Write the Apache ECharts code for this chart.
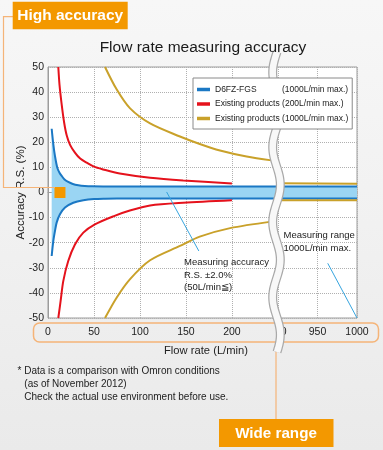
<!DOCTYPE html>
<html><head><meta charset="utf-8">
<script src="https://cdn.jsdelivr.net/npm/echarts@6/dist/echarts.min.js"></script>
<style>
html,body{margin:0;padding:0;width:383px;height:450px;overflow:hidden;background:linear-gradient(to bottom,#f7f7f7 0%,#f1f1f1 50%,#eaeaea 100%);}
#c{width:383px;height:450px;}
</style></head><body><div id="c"></div>
<script>
// ---- data (flow rate in L/min, accuracy in % R.S.) ----
const xTickFlows  = [0, 50, 100, 150, 200, 900, 950, 1000];
const xTickLabels = ['0', '50', '100', '150', '200', '900', '950', '1000'];

const d6fzUpper = [[4,25.4],[5.8,19.2],[7.6,14.5],[10.1,9.9],[12.5,7.9],[14.9,6.6],[18,5.2],[22,4.2],[27,3.4],[33,2.9],[40,2.6],[48,2.45],[60,2.4],[200,2.4],[900,2.4],[1000,2.4]];
const d6fzLower = [[4,-25.3],[5.8,-19.3],[7.6,-15.3],[9.4,-12],[13,-8.7],[18.5,-6],[27.5,-4.1],[38.4,-3.1],[50,-2.6],[62,-2.45],[75,-2.4],[200,-2.4],[900,-2.4],[1000,-2.4]];

const red200Upper = [[11.2,50],[12.5,43],[14.9,35],[17.5,28],[20.3,22.8],[24,19],[29.3,15.9],[35,13.5],[42,11.9],[50,10.3],[60,9.2],[78,7.6],[111,5.9],[147,4.8],[200,3.6]];
const red200Lower = [[11.2,-50],[13.8,-43],[16.6,-35.3],[22,-27.3],[29.3,-20.7],[38.4,-16],[51,-12.7],[71,-9.5],[89,-7.2],[111,-5.2],[147,-4.1],[200,-3.1]];

const gold1000UpperA = [[62,50],[74.6,41.1],[89,33.6],[111,27.5],[143.5,22.3],[165,19.3],[187,16.7],[216,14.3],[243,12.8]];
const gold1000UpperB = [[900,3.7],[1000,3.5]];
const gold1000LowerA = [[62,-50],[74.6,-41.9],[89,-34.6],[111,-27],[143.5,-21.3],[165,-17.6],[198,-14.2],[243,-11.6]];
const gold1000LowerB = [[900,-3.1],[1000,-3.1]];

const accuracyLeader = [[129,0.2],[164,-23.3]];
const rangeLeader    = [[963,-28.2],[1000,-50]];
const startMarker    = [[13,0]];

// ---- broken axis mapping: 0..250 | 900..1000 ----
const BREAK_AT = 250, RIGHT_START = 900, RIGHT_SCALE = 0.86;
const toDisp = f => f <= BREAK_AT ? f : BREAK_AT + (f - RIGHT_START) * RIGHT_SCALE;
const mapPts = arr => arr.map(p => [toDisp(p[0]), p[1]]);
const xTickDisp = xTickFlows.map(toDisp);
const X_MAX = toDisp(1000);

const FONT = "'Liberation Sans', Arial, sans-serif";
const BLUE = '#1b78c4', RED = '#e5121c', GOLD = '#c9a12a', BAND = '#9ad5f3', ORANGE = '#f39800', ORANGE_LINE = '#f5b478', LEAD = '#36a4de';
const N_D6 = 'D6FZ-FGS', N_R = 'Existing products (200L/min max.)', N_G = 'Existing products (1000L/min max.)';

function lineSeries(name, color, pts) {
  return { type: 'line', name, data: mapPts(pts), symbol: 'none', smooth: 0.3, silent: true,
    itemStyle: { color }, lineStyle: { color, width: 2 }, z: 3 };
}

const chart = echarts.init(document.getElementById('c'), null, { renderer: 'canvas' });

const option = {
  animation: false,
  backgroundColor: 'transparent',
  textStyle: { fontFamily: FONT },
  grid: { left: 48, top: 67, width: 309, height: 251, show: true, backgroundColor: '#ffffff', borderColor: '#9c9c9c', borderWidth: 1 },
  legend: {
    data: [N_D6, N_R, N_G], orient: 'vertical', left: 193, top: 78, z: 200,
    padding: [7, 4, 6, 4], itemGap: 5.5, itemWidth: 13, itemHeight: 3.5, icon: 'rect',
    backgroundColor: '#ffffff', borderColor: '#8a8a8a', borderWidth: 1, selectedMode: false,
    textStyle: { fontSize: 8.5, color: '#222', fontFamily: FONT,
      rich: { a: { width: 67, fontSize: 8.5, color: '#222', fontFamily: FONT }, b: { fontSize: 8.5, color: '#222', fontFamily: FONT } } },
    formatter: n => n === N_D6 ? '{a|D6FZ-FGS}{b|(1000L/min max.)}' : n
  },
  xAxis: {
    type: 'value', min: 0, max: X_MAX,
    name: 'Flow rate (L/min)', nameLocation: 'middle', nameGap: 27, nameMoveOverlap: false,
    nameTextStyle: { fontSize: 11.2, color: '#222', fontFamily: FONT, padding: [0, 0, 0, 7] },
    axisLine: { show: true, lineStyle: { color: '#9c9c9c' } },
    axisTick: { show: false, customValues: xTickDisp },
    axisLabel: { customValues: xTickDisp, fontSize: 10.5, color: '#222', margin: 9, fontFamily: FONT,
      rich: { hid: { color: 'rgba(0,0,0,0)', fontSize: 10.5, fontFamily: FONT } },
      formatter: v => {
        const i = xTickDisp.findIndex(t => Math.abs(t - v) < 0.01);
        if (i < 0) return '';
        const s = xTickLabels[i];
        // the label at the axis break is partly hidden behind the break mark
        return xTickFlows[i] === RIGHT_START ? '{hid|' + s.slice(0, -1) + '}' + s.slice(-1) : s;
      } },
    splitLine: { show: true, lineStyle: { type: 'dotted', color: '#b0b0b0' } }
  },
  yAxis: {
    type: 'value', min: -50, max: 50, interval: 10,
    name: 'Accuracy R.S. (%)', nameLocation: 'middle', nameGap: 21, nameMoveOverlap: false,
    nameTextStyle: { fontSize: 11.5, color: '#222', fontFamily: FONT },
    axisLine: { show: true, lineStyle: { color: '#9c9c9c' } },
    axisTick: { show: false },
    axisLabel: { fontSize: 10.5, color: '#222', margin: 4, fontFamily: FONT },
    splitLine: { show: true, lineStyle: { type: 'dotted', color: '#b0b0b0' } }
  },
  series: [
    { type: 'custom', name: 'band', data: [[0, 0]], silent: true, z: 1, clip: true,
      renderItem: (params, api) => {
        const pts = mapPts(d6fzUpper).map(p => api.coord(p))
          .concat(mapPts(d6fzLower).reverse().map(p => api.coord(p)));
        return { type: 'polygon', shape: { points: pts, smooth: 0 }, style: { fill: BAND } };
      } },
    lineSeries(N_D6, BLUE, d6fzUpper),
    lineSeries(N_D6, BLUE, d6fzLower),
    lineSeries(N_R, RED, red200Upper),
    lineSeries(N_R, RED, red200Lower),
    lineSeries(N_G, GOLD, gold1000UpperA),
    lineSeries(N_G, GOLD, gold1000UpperB),
    lineSeries(N_G, GOLD, gold1000LowerA),
    lineSeries(N_G, GOLD, gold1000LowerB),
    { type: 'line', name: 'lead1', data: mapPts(accuracyLeader), symbol: 'none', silent: true, lineStyle: { color: LEAD, width: 1 }, z: 4 },
    { type: 'line', name: 'lead2', data: mapPts(rangeLeader), symbol: 'none', silent: true, lineStyle: { color: LEAD, width: 1 }, z: 4 },
    { type: 'scatter', name: 'start', data: mapPts(startMarker), symbol: 'rect', symbolSize: 11, silent: true,
      itemStyle: { color: ORANGE, opacity: 1 }, z: 6 }
  ]
};
chart.setOption(option);

// ---- decorations ----
const txt = (x, y, text, o) => ({ type: 'text', x, y, silent: true, z: 120,
  style: Object.assign({ text, fill: '#222', font: '10px ' + FONT, textAlign: 'left', textVerticalAlign: 'middle' }, (o || {}).style || {}) });

const breakX = chart.convertToPixel({ gridIndex: 0 }, [BREAK_AT, 0])[0] - 1.4;
const wavePts = [];
for (let y = 52; y <= 352; y += 2) wavePts.push([breakX + 3.8 * Math.sin(2 * Math.PI * (y - 166) / 75), y]);

chart.setOption({
  graphic: [
    // High accuracy bracket and label
    { type: 'polyline', silent: true, z: 90, shape: { points: [[13, 16.7], [3.5, 16.7], [3.5, 187.5], [55, 187.5]] }, style: { stroke: ORANGE_LINE, lineWidth: 1.2, fill: null } },
    { type: 'rect', silent: true, z: 110, shape: { x: 12.7, y: 1.7, width: 115, height: 27.6 }, style: { fill: ORANGE } },
    txt(70.2, 16, 'High accuracy', { style: { fill: '#fff', font: 'bold 15.5px ' + FONT, textAlign: 'center' } }),
    // title
    txt(203, 48, 'Flow rate measuring accuracy', { style: { fill: '#1a1a1a', font: '15.5px ' + FONT, textAlign: 'center' } }),
    // wide range bracket
    { type: 'rect', silent: true, z: 90, shape: { x: 33.5, y: 323, width: 345, height: 19, r: 6 }, style: { stroke: ORANGE_LINE, lineWidth: 1.5, fill: null } },
    { type: 'line', silent: true, z: 90, shape: { x1: 276, y1: 342, x2: 276, y2: 419 }, style: { stroke: ORANGE_LINE, lineWidth: 1.2 } },
    { type: 'rect', silent: true, z: 110, shape: { x: 219, y: 419, width: 114.5, height: 28 }, style: { fill: ORANGE } },
    txt(276, 433.5, 'Wide range', { style: { fill: '#fff', font: 'bold 15.2px ' + FONT, textAlign: 'center' } }),
    // axis break wave
    { type: 'polyline', silent: true, z: 100, shape: { points: wavePts, smooth: 0.3 }, style: { stroke: '#a9a9a9', lineWidth: 9, fill: null } },
    { type: 'polyline', silent: true, z: 101, shape: { points: wavePts, smooth: 0.3 }, style: { stroke: '#f8f8f8', lineWidth: 6.5, fill: null } },
    // annotations
    txt(184, 262.7, 'Measuring accuracy', { style: { font: '9.5px ' + FONT } }),
    txt(184, 275, 'R.S. ±2.0%', { style: { font: '9.5px ' + FONT } }),
    txt(184, 287, '(50L/min≦)', { style: { font: '9.5px ' + FONT } }),
    txt(283.5, 235, 'Measuring range', { style: { font: '9.5px ' + FONT } }),
    txt(283.5, 248.3, '1000L/min max.', { style: { font: '9.5px ' + FONT } }),
    // footnotes
    txt(17.5, 371, '* Data is a comparison with Omron conditions', { style: { font: '10px ' + FONT } }),
    txt(24.3, 384, '(as of November 2012)', { style: { font: '10px ' + FONT } }),
    txt(24.3, 397.5, 'Check the actual use environment before use.', { style: { font: '10px ' + FONT } })
  ]
});
</script></body></html>
